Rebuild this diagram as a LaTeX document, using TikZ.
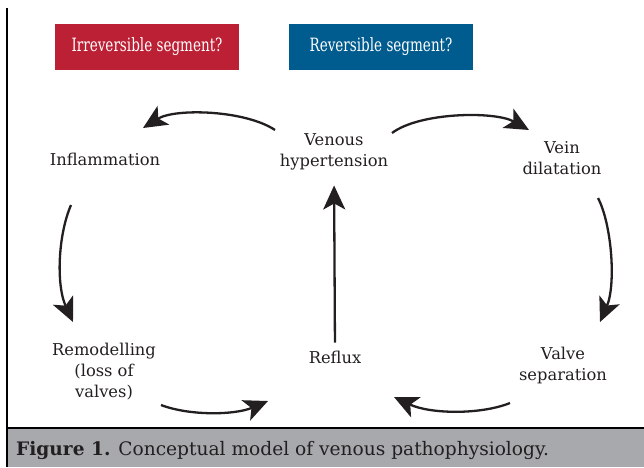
\documentclass[tikz,border=0pt]{standalone}
\usepackage{fontspec}
\setmainfont{DejaVu Serif}
\newfontfamily\boxfont[FakeStretch=0.74]{DejaVu Serif}
\usetikzlibrary{arrows.meta}
\definecolor{txt}{HTML}{231F20}
\definecolor{redbox}{HTML}{BC2035}
\definecolor{bluebox}{HTML}{005B8E}
\definecolor{capgray}{HTML}{A7A9AC}
\tikzset{
  lbl/.style={text=txt, align=center, font=\fontsize{16.3}{21}\selectfont, inner sep=0pt},
  hdr/.style={text=white, minimum width=184pt, minimum height=46pt, inner sep=0pt, font=\boxfont\fontsize{18.3}{20}\selectfont},
  arr/.style={draw=txt, line width=2.3pt, -{Stealth[length=24pt, width=22pt, inset=6pt]}},
}
\begin{document}
\begin{tikzpicture}[x=1pt,y=-1pt]
\useasboundingbox (0,0) rectangle (644,467);
% frame and caption bar
\fill[capgray] (7,429) rectangle (644,467);
\draw[black, line width=2pt] (7,8) -- (7,467);
\draw[black, line width=2pt] (6,428) -- (644,428);
\node[anchor=base west, text=txt, inner sep=0pt, font=\fontsize{18.6}{20}\selectfont] (cap) at (16,455) {\textbf{Figure 1.} Conceptual model of venous pathophysiology.};
% header boxes
\node[hdr, fill=redbox] (irr) at (147,47) {Irreversible segment?};
\node[hdr, fill=bluebox] (rev) at (381,47) {Reversible segment?};
% labels
\node[lbl] (hyp) at (334,152) {Venous\\hypertension};
\node[lbl] (inf) at (105,159) {Inflammation};
\node[lbl] (vein) at (562,158) {Vein\\dilatation};
\node[lbl] (rem) at (104,372) {Remodelling\\(loss of\\valves)};
\node[lbl] (ref) at (335,357) {Reflux};
\node[lbl] (valve) at (563,365) {Valve\\separation};
% arrow end points
\coordinate (a1s) at (275,130); \coordinate (a1e) at (143,128);
\coordinate (a2s) at (392,133); \coordinate (a2e) at (529,130);
\coordinate (a3s) at (71,205);  \coordinate (a3e) at (73,322);
\coordinate (a4s) at (598,198); \coordinate (a4e) at (600,322);
\coordinate (a5s) at (161,405); \coordinate (a5e) at (268,401);
\coordinate (a6s) at (510,403); \coordinate (a6e) at (394,397);
% arrows
\draw[arr] (a1s) .. controls (245,110) and (175,108) .. (a1e);
\draw[arr] (a2s) .. controls (420,112) and (495,111) .. (a2e);
\draw[arr] (a3s) .. controls (58,235) and (56,285) .. (a3e);
\draw[arr] (a4s) .. controls (612,225) and (616,285) .. (a4e);
\draw[arr] (a5s) .. controls (190,416) and (235,415) .. (a5e);
\draw[arr] (a6s) .. controls (480,415) and (430,414) .. (a6e);
\draw[arr, shorten <=8pt, shorten >=15pt] (ref.north) -- (hyp.south);
\end{tikzpicture}
\end{document}
